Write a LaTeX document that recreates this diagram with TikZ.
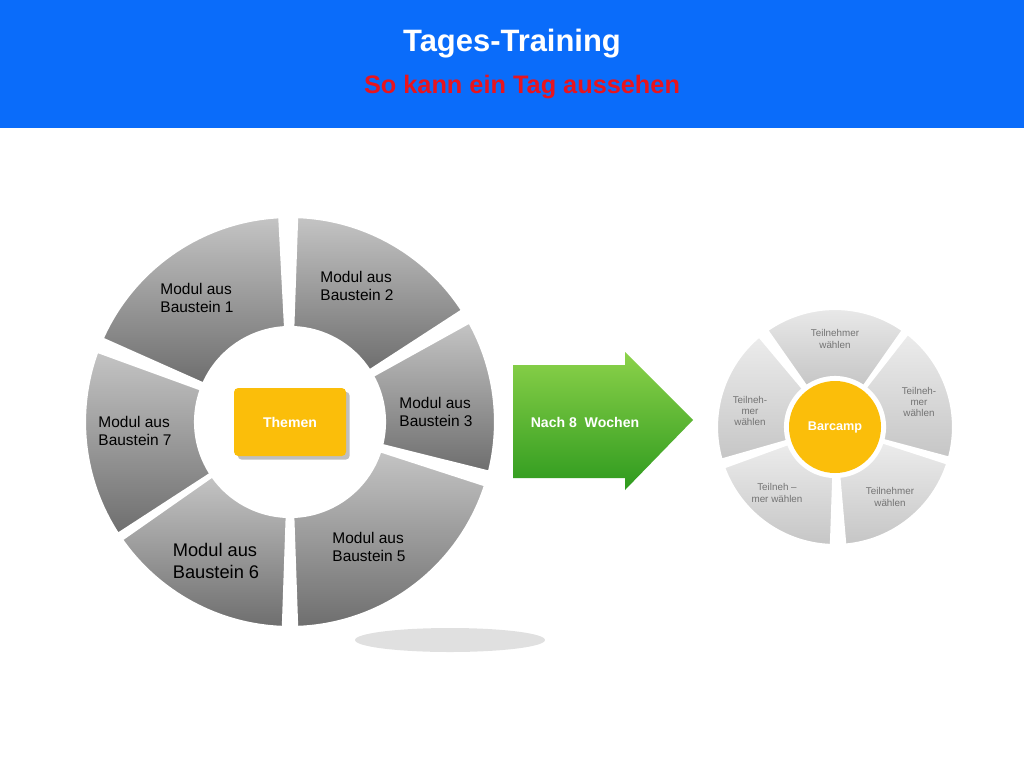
\documentclass[tikz,border=0pt]{standalone}
\usepackage{fontspec}
\setmainfont{Liberation Sans}
\usetikzlibrary{positioning,shadows,calc}
\definecolor{hdblue}{HTML}{0A6CFA}
\definecolor{hdred}{HTML}{E8141E}
\definecolor{segtop}{HTML}{C4C4C4}
\definecolor{segbot}{HTML}{6E6E6E}
\definecolor{amber}{HTML}{FBBE0A}
\definecolor{lgreen}{HTML}{8CD24A}
\definecolor{dgreen}{HTML}{2E9A1E}
\tikzset{
  seglabel/.style={align=left,font=\fontsize{11}{13}\selectfont,text=black},
  smalllabel/.style={align=center,font=\fontsize{7}{8}\selectfont,text=gray!90!black},
  centerbox/.style={fill=amber,rounded corners=3pt,text=white,font=\bfseries\fontsize{10}{12}\selectfont,minimum width=28mm,minimum height=17mm},
}
\newcommand{\ringseg}[5]{% center, from, to, inner r, outer r
  \fill[top color=segtop,bottom color=segbot,draw=white,line width=1.5pt]
    ($#1+(#2:#5)$) arc[start angle=#2,end angle=#3,radius=#5]
    -- ($#1+(#3:#4)$) arc[start angle=#3,end angle=#2,radius=#4] -- cycle;}
\newcommand{\smallseg}[5]{%
  \fill[top color=gray!15,bottom color=gray!45,draw=white,line width=1.5pt]
    ($#1+(#2:#5)$) arc[start angle=#2,end angle=#3,radius=#5]
    -- ($#1+(#3:#4)$) arc[start angle=#3,end angle=#2,radius=#4] -- cycle;}
\begin{document}
\begin{tikzpicture}[x=0.25mm,y=-0.25mm]
  \useasboundingbox (0,0) rectangle (1024,768);
  \fill[white] (0,0) rectangle (1024,768);

  % header
  \fill[hdblue] (0,0) rectangle (1024,128);
  \node (title) at (512,44) {\bfseries\fontsize{22}{26}\selectfont\color{white}Tages-Training};
  \node (subtitle) at (522,87) {\bfseries\fontsize{18}{22}\selectfont\color{hdred}So kann ein Tag aussehen};

  % shadow
  \fill[black,opacity=0.12] (450,640) ellipse (95 and 12);

  % left ring
  \coordinate (lc) at (290,422);
  \begin{scope}[shift={(lc)},y=0.25mm]
    \ringseg{(0,0)}{93}{156}{95}{205}
    \ringseg{(0,0)}{33}{88}{95}{205}
    \ringseg{(0,0)}{-14}{29}{95}{205}
    \ringseg{(0,0)}{-88}{-18}{95}{205}
    \ringseg{(0,0)}{-145}{-92}{95}{205}
    \ringseg{(0,0)}{160}{213}{95}{205}
  \end{scope}
  \node[seglabel] (m1) at (197,298) {Modul aus\\Baustein 1};
  \node[seglabel] (m2) at (357,286) {Modul aus\\Baustein 2};
  \node[seglabel] (m3) at (436,412) {Modul aus\\Baustein 3};
  \node[seglabel] (m5) at (369,547) {Modul aus\\Baustein 5};
  \node[seglabel,font=\fontsize{13}{15}\selectfont] (m6) at (216,561) {Modul aus\\Baustein 6};
  \node[seglabel] (m7) at (135,431) {Modul aus\\Baustein 7};
  \node[centerbox,drop shadow] (themen) at (lc) {Themen};

  % arrow
  \shade[top color=lgreen,bottom color=dgreen]
    (513,365) -- (625,365) -- (625,352) -- (693,420) -- (625,490) -- (625,478) -- (513,478) -- cycle;
  \node[text=white,font=\bfseries\fontsize{10}{12}\selectfont] (weeks) at (585,422) {Nach 8~~Wochen};

  % right ring
  \coordinate (rc) at (835,427);
  \begin{scope}[shift={(rc)},y=0.25mm]
    \smallseg{(0,0)}{55}{125}{50}{118}
    \smallseg{(0,0)}{-15}{52}{50}{118}
    \smallseg{(0,0)}{-85}{-18}{50}{118}
    \smallseg{(0,0)}{-160}{-92}{50}{118}
    \smallseg{(0,0)}{130}{196}{50}{118}
  \end{scope}
  \node[circle,fill=amber,minimum size=23mm,text=white,font=\bfseries\fontsize{9}{11}\selectfont] (barcamp) at (rc) {Barcamp};
  \node[smalllabel] (t1) at (835,339) {Teilnehmer\\wählen};
  \node[smalllabel] (t2) at (919,402) {Teilneh-\\mer\\wählen};
  \node[smalllabel] (t3) at (890,497) {Teilnehmer\\wählen};
  \node[smalllabel] (t4) at (777,493) {Teilneh –\\mer wählen};
  \node[smalllabel] (t5) at (750,411) {Teilneh-\\mer\\wählen};
\end{tikzpicture}
\end{document}
